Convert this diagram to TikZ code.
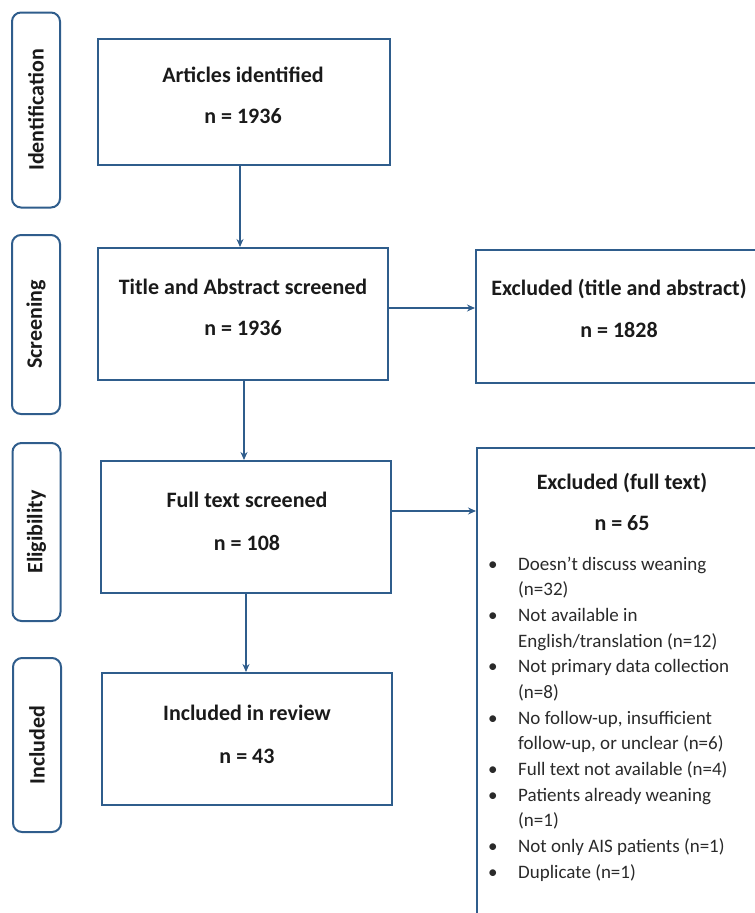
\documentclass[tikz,border=0pt]{standalone}
\usepackage{fontspec}
\setmainfont{Carlito}
\usetikzlibrary{arrows.meta,calc}
\definecolor{bord}{HTML}{2F5D8C}
\definecolor{txt}{HTML}{1A1A1A}
\definecolor{listtxt}{HTML}{2A2A2A}
\tikzset{
  stagebox/.style={draw=bord, line width=2pt, rounded corners=9pt, minimum width=48pt, text=txt, font=\fontsize{22}{26}\selectfont\bfseries, inner sep=0pt},
  mainbox/.style={draw=bord, line width=2pt, minimum width=290pt, inner sep=0pt},
  ttl/.style={text=txt, font=\fontsize{22}{26}\selectfont\bfseries, inner sep=0pt, anchor=base},
  arr/.style={draw=bord, line width=1.6pt, -{Stealth[length=8pt,width=7pt]}},
}
\begin{document}
\begin{tikzpicture}[x=1pt,y=-1pt]
\useasboundingbox (0,0) rectangle (755,913);
\clip (0,0) rectangle (755,913);
% stage labels
\node[stagebox, minimum height=195pt] (sid) at (36,110) {\rotatebox{90}{Identification}};
\node[stagebox, minimum height=179pt] (ssc) at (36,324.5) {\rotatebox{90}{Screening}};
\node[stagebox, minimum height=178pt] (sel) at (36.5,532) {\rotatebox{90}{Eligibility}};
\node[stagebox, minimum height=174pt] (sin) at (37,745) {\rotatebox{90}{Included}};
% main boxes
\node[mainbox, minimum width=292pt, minimum height=126pt] (art) at (244,102) {};
\node[mainbox, minimum width=290pt, minimum height=132pt] (tas) at (243,314) {};
\node[mainbox, minimum width=290pt, minimum height=132pt] (fts) at (246,527) {};
\node[mainbox, minimum width=290pt, minimum height=132pt] (inc) at (247,739) {};
\node[mainbox, minimum width=300pt, minimum height=133pt, anchor=north west] (exa) at (475,249) {};
\node[mainbox, minimum width=300pt, minimum height=480pt, anchor=north west] (exf) at (476,447) {};
% titles
\node[ttl] (t1) at (243,82) {Articles identified};
\node[ttl] (n1) at (243,123) {n = 1936};
\node[ttl] (t2) at (243,294) {Title and Abstract screened};
\node[ttl] (n2) at (243,335) {n = 1936};
\node[ttl] (t3) at (619,295) {Excluded (title and abstract)};
\node[ttl] (n3) at (619,337) {n = 1828};
\node[ttl] (t4) at (247,507) {Full text screened};
\node[ttl] (n4) at (247,550) {n = 108};
\node[ttl] (t5) at (247,720) {Included in review};
\node[ttl] (n5) at (247,763) {n = 43};
\node[ttl] (t6) at (622,489) {Excluded (full text)};
\node[ttl] (n6) at (622,530) {n = 65};
% list
\node[anchor=base west, inner sep=0pt, text=listtxt, font=\fontsize{19}{25.67}\selectfont] (lst) at (488,570) {%
\begin{tabular}[t]{@{}p{30pt}@{}l@{}}
\textbullet & Doesn’t discuss weaning\\
 & (n=32)\\
\textbullet & Not available in\\
 & English/translation (n=12)\\
\textbullet & Not primary data collection\\
 & (n=8)\\
\textbullet & No follow-up, insufficient\\
 & follow-up, or unclear (n=6)\\
\textbullet & Full text not available (n=4)\\
\textbullet & Patients already weaning\\
 & (n=1)\\
\textbullet & Not only AIS patients (n=1)\\
\textbullet & Duplicate (n=1)
\end{tabular}};
% arrows
\draw[arr] ([xshift=-4pt]art.south) -- ([xshift=-4pt]art.south |- tas.north);
\draw[arr] ([xshift=1pt]tas.south) -- ([xshift=1pt]tas.south |- fts.north);
\draw[arr] (fts.south) -- (fts.south |- inc.north);
\draw[arr] ([yshift=6pt]tas.east) -- ([yshift=6pt]tas.east -| exa.west);
\draw[arr] ([yshift=16pt]fts.east) -- ([yshift=16pt]fts.east -| exf.west);
\end{tikzpicture}
\end{document}
